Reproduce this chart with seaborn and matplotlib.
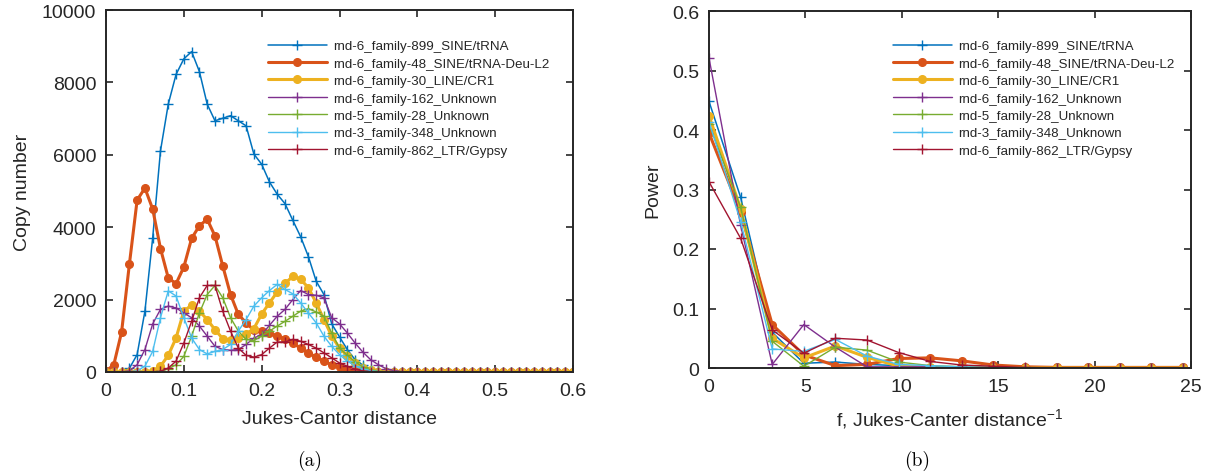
import numpy as np
import pandas as pd
import matplotlib
matplotlib.use("Agg")
import matplotlib.pyplot as plt
import seaborn as sns

# ---------------- data ----------------
names = [
    "rnd-6_family-899_SINE/tRNA",
    "rnd-6_family-48_SINE/tRNA-Deu-L2",
    "rnd-6_family-30_LINE/CR1",
    "rnd-6_family-162_Unknown",
    "rnd-5_family-28_Unknown",
    "rnd-3_family-348_Unknown",
    "rnd-6_family-862_LTR/Gypsy",
]
colors = ["#0072BD", "#D95319", "#EDB120", "#7E2F8E", "#77AC30", "#4DBEEE", "#A2142F"]

# Jukes-Cantor distance bins 0.00 ... 0.60 (step 0.01)
distance = np.round(np.linspace(0.0, 0.6, 61), 2)

def pad(vals):
    return list(vals) + [0] * (61 - len(vals))

copies_899 = pad([0, 0, 0, 100, 480, 1680, 3710, 6110, 7400, 8220, 8650, 8850, 8300, 7400,
                  6940, 7010, 7080, 6940, 6800, 6020, 5740, 5250, 4910, 4650, 4190, 3740,
                  3190, 2510, 2140, 1330, 970, 620, 340, 190, 80, 30, 10])
copies_48 = pad([20, 200, 1100, 2970, 4750, 5080, 4500, 3410, 2600, 2440, 2900, 3690, 4040,
                 4220, 3760, 2930, 2140, 1590, 1360, 1150, 1130, 1080, 990, 920, 800, 660,
                 530, 410, 300, 200, 130, 60, 30, 10])
copies_30 = pad([0, 0, 0, 0, 0, 0, 30, 160, 460, 940, 1680, 1850, 1680, 1450, 1170, 920, 880,
                 940, 1050, 1200, 1600, 1910, 2210, 2450, 2640, 2560, 2330, 1910, 1450, 990,
                 660, 450, 250, 120, 50, 10])
copies_162 = pad([0, 0, 0, 30, 200, 620, 1330, 1730, 1820, 1770, 1630, 1500, 1270, 990, 710,
                  620, 600, 620, 760, 940, 1030, 1290, 1540, 1730, 2000, 2250, 2140, 2120,
                  2050, 1500, 1330, 1080, 800, 550, 340, 200, 90, 40, 10])
copies_28 = pad([0, 0, 0, 0, 0, 0, 0, 20, 90, 200, 430, 990, 1630, 2140, 2390, 2050, 1500,
                 1130, 900, 870, 990, 1130, 1270, 1400, 1540, 1680, 1750, 1660, 1540, 1080,
                 660, 460, 280, 140, 60, 20])
copies_348 = pad([0, 0, 0, 0, 30, 160, 570, 1500, 2240, 2100, 1500, 940, 620, 500, 570, 620,
                  760, 1130, 1450, 1820, 2050, 2250, 2420, 2280, 2160, 1910, 1630, 1360, 990,
                  710, 480, 300, 170, 80, 30, 10])
copies_862 = pad([0, 0, 0, 0, 0, 0, 0, 20, 110, 300, 800, 1400, 2050, 2390, 2390, 1680, 1130,
                  660, 460, 410, 480, 660, 830, 830, 900, 850, 760, 660, 530, 390, 250, 160,
                  80, 30, 10])
copies = [copies_899, copies_48, copies_30, copies_162, copies_28, copies_348, copies_862]

# spectrum: frequency bins k / (61 * 0.01)
freq = np.arange(16) / 0.61
power_899 = [0.448, 0.287, 0.060, 0.008, 0.010, 0.006, 0.004, 0.002, 0.001, 0.001, 0, 0, 0, 0, 0, 0]
power_48 = [0.395, 0.262, 0.073, 0.022, 0.004, 0.006, 0.016, 0.017, 0.012, 0.005, 0.002, 0.001, 0.001, 0.001, 0.001, 0.001]
power_30 = [0.424, 0.268, 0.050, 0.017, 0.037, 0.018, 0.003, 0.001, 0.001, 0, 0, 0, 0, 0, 0, 0]
power_162 = [0.521, 0.240, 0.006, 0.073, 0.035, 0.002, 0.002, 0.002, 0.001, 0, 0, 0, 0, 0, 0, 0]
power_28 = [0.410, 0.270, 0.045, 0.003, 0.035, 0.030, 0.010, 0.004, 0.002, 0.001, 0, 0, 0, 0, 0, 0]
power_348 = [0.414, 0.246, 0.032, 0.028, 0.048, 0.020, 0.006, 0.004, 0.002, 0.001, 0, 0, 0, 0, 0, 0]
power_862 = [0.313, 0.218, 0.064, 0.025, 0.050, 0.047, 0.026, 0.011, 0.005, 0.003, 0.001, 0, 0, 0, 0, 0]
powers = [power_899, power_48, power_30, power_162, power_28, power_348, power_862]

markers = ["+", "o", "o", "+", "+", "+", "+"]
widths = [1.1, 2.2, 2.2, 1.0, 1.0, 1.0, 1.0]

x_ticks_a = [0, 0.1, 0.2, 0.3, 0.4, 0.5, 0.6]
y_ticks_a = [0, 2000, 4000, 6000, 8000, 10000]
x_ticks_b = [0, 5, 10, 15, 20, 25]
y_ticks_b = [0, 0.1, 0.2, 0.3, 0.4, 0.5, 0.6]

# ---------------- style ----------------
sns.set_style("ticks")
plt.rcParams["font.family"] = ["Liberation Sans", "DejaVu Sans"]
plt.rcParams["mathtext.fontset"] = "custom"
plt.rcParams["mathtext.rm"] = "Liberation Sans"
plt.rcParams["mathtext.it"] = "Liberation Sans"
edge = "#262626"

fig = plt.figure(figsize=(12.11, 4.77), dpi=100)
ax1 = fig.add_axes([106 / 1211, 1 - 373 / 477, (573 - 106) / 1211, (373 - 11) / 477])
ax2 = fig.add_axes([709 / 1211, 1 - 369 / 477, (1191 - 709) / 1211, (369 - 12) / 477])

def draw(ax, xs, series):
    for name, vals, c, m, lw in zip(names, series, colors, markers, widths):
        df = pd.DataFrame({"x": xs, "y": vals})
        kw = dict(marker=m, markersize=5.5 if m == "o" else 6.5,
                  markeredgewidth=1.0, linewidth=lw,
                  markerfacecolor=c, markeredgecolor=c)
        sns.lineplot(data=df, x="x", y="y", ax=ax, color=c, label=name,
                     estimator=None, sort=False, **kw)

draw(ax1, distance, copies)
draw(ax2, freq, powers)

for ax in (ax1, ax2):
    for s in ax.spines.values():
        s.set_visible(True)
        s.set_color(edge)
        s.set_linewidth(1.4)
    ax.tick_params(direction="in", top=True, right=True, length=5, width=1.2,
                   color=edge, labelcolor=edge, labelsize=14, pad=7)

ax1.set_xlim(0, 0.6)
ax1.set_ylim(0, 10000)
ax1.set_xticks(x_ticks_a)
ax1.set_xticklabels([f"{v:g}" for v in x_ticks_a])
ax1.set_yticks(y_ticks_a)
ax1.set_xlabel("Jukes-Cantor distance", fontsize=14, color=edge, labelpad=8)
ax1.set_ylabel("Copy number", fontsize=14, color=edge, labelpad=8)

ax2.set_xlim(0, 25)
ax2.set_ylim(0, 0.6)
ax2.set_xticks(x_ticks_b)
ax2.set_yticks(y_ticks_b)
ax2.set_yticklabels([f"{v:g}" for v in y_ticks_b])
ax2.set_xlabel("f, Jukes-Canter distance$^{-1}$", fontsize=14, color=edge, labelpad=8)
ax2.set_ylabel("Power", fontsize=14, color=edge, labelpad=8)

leg_kw = dict(frameon=False, loc="upper left", fontsize=9.6, handlelength=4.4,
              handletextpad=0.5, labelspacing=0.38, borderpad=0, borderaxespad=0)
ax1.legend(bbox_to_anchor=((268 - 106) / 467, 1 - (41 - 11) / 362), **leg_kw)
ax2.legend(bbox_to_anchor=((893 - 709) / 482, 1 - (41 - 12) / 357), **leg_kw)

fig.text(310 / 1211, 1 - 461 / 477, "(a)", family="cmr10", fontsize=14,
         ha="center", va="center", color="black")
fig.text(917 / 1211, 1 - 461 / 477, "(b)", family="cmr10", fontsize=14,
         ha="center", va="center", color="black")

fig.savefig("out.png", dpi=100)
